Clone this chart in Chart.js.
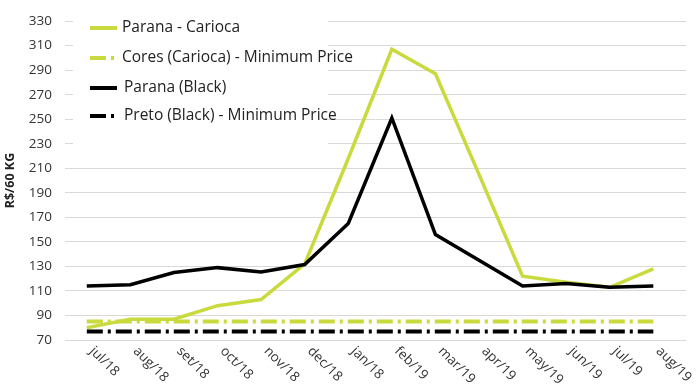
<!DOCTYPE html>
<html>
<head>
<meta charset="utf-8">
<script src="https://cdn.jsdelivr.net/npm/chart.js@4"></script>
<style>
  html, body { margin: 0; padding: 0; background: #fff; }
  #wrap { width: 696px; height: 384px; }
</style>
</head>
<body>
<div id="wrap"><canvas id="priceChart" width="696" height="384"></canvas></div>
<script>
/* --- DATA --- */
const months = ['jul/18', 'aug/18', 'set/18', 'oct/18', 'nov/18', 'dec/18', 'jan/18',
                'feb/19', 'mar/19', 'apr/19', 'may/19', 'jun/19', 'jul/19', 'aug/19'];

const paranaCarioca = [80, 87, 87, 98, 103, 132, 218, 307, 287, 205, 122, 117, 113, 128];
const coresMinPrice = [85, 85, 85, 85, 85, 85, 85, 85, 85, 85, 85, 85, 85, 85];
const paranaBlack   = [114, 115, 125, 129, 125.5, 131.5, 165, 251, 156, 135, 114, 116, 113, 114];
const pretoMinPrice = [77, 77, 77, 77, 77, 77, 77, 77, 77, 77, 77, 77, 77, 77];

const yMin = 70;
const yMax = 330;
const yStep = 20;

const GREEN = '#c9da3e';
const BLACK = '#000000';
const FONT = 'Open Sans';
const DASH_DOT = [16, 5, 3, 5];

// {x, y} points so the x axis can be a linear scale with uneven side padding
const toPoints = arr => arr.map((v, i) => ({ x: i, y: v }));

const legendItems = [
    { text: 'Parana - Carioca', color: GREEN, dash: [] },
    { text: 'Cores (Carioca) - Minimum Price', color: GREEN, dash: DASH_DOT },
    { text: 'Parana (Black)', color: BLACK, dash: [] },
    { text: 'Preto (Black) - Minimum Price', color: BLACK, dash: DASH_DOT }
];

/* --- PLUGINS --- */

// month labels, rotated +45deg (downwards to the right)
const monthLabels = {
    id: 'monthLabels',
    afterDraw(chart) {
        const { ctx, chartArea, scales: { x } } = chart;
        ctx.save();
        ctx.font = '13.5px "' + FONT + '"';
        ctx.fillStyle = '#333';
        ctx.textAlign = 'left';
        ctx.textBaseline = 'middle';
        months.forEach((m, i) => {
            const px = x.getPixelForValue(i);
            ctx.save();
            ctx.translate(px + 5, chartArea.bottom + 9);
            ctx.rotate(Math.PI / 4);
            ctx.fillText(m, 0, 0);
            ctx.restore();
        });
        ctx.restore();
    }
};

// legend sitting inside the plot with a white box
const boxLegend = {
    id: 'boxLegend',
    afterDatasetsDraw(chart) {
        const ctx = chart.ctx;
        ctx.save();
        ctx.fillStyle = '#fff';
        ctx.fillRect(73, 0, 255, 150);
        const rows = [28, 58, 88, 116];
        legendItems.forEach((it, i) => {
            const y = rows[i];
            ctx.beginPath();
            ctx.strokeStyle = it.color;
            ctx.lineWidth = 4;
            ctx.lineCap = 'butt';
            ctx.setLineDash(it.dash);
            ctx.moveTo(90, y);
            ctx.lineTo(117, y);
            ctx.stroke();
            ctx.setLineDash([]);
            ctx.fillStyle = '#222';
            ctx.font = '15.5px "' + FONT + '"';
            ctx.textAlign = 'left';
            ctx.textBaseline = 'middle';
            ctx.fillText(it.text, i < 2 ? 122 : 124, y);
        });
        ctx.restore();
    }
};

/* --- CHART --- */
const ctx = document.getElementById('priceChart').getContext('2d');

new Chart(ctx, {
    type: 'line',
    data: {
        datasets: [
            {
                label: legendItems[0].text,
                data: toPoints(paranaCarioca),
                borderColor: GREEN,
                borderWidth: 3.5,
                order: 4
            },
            {
                label: legendItems[1].text,
                data: toPoints(coresMinPrice),
                borderColor: GREEN,
                borderWidth: 4,
                borderDash: DASH_DOT,
                order: 3
            },
            {
                label: legendItems[2].text,
                data: toPoints(paranaBlack),
                borderColor: BLACK,
                borderWidth: 3.5,
                order: 2
            },
            {
                label: legendItems[3].text,
                data: toPoints(pretoMinPrice),
                borderColor: BLACK,
                borderWidth: 4,
                borderDash: DASH_DOT,
                order: 1
            }
        ]
    },
    options: {
        responsive: false,
        animation: false,
        layout: { padding: { top: 10, right: 10, bottom: 44, left: 3 } },
        elements: {
            point: { radius: 0, hoverRadius: 0 },
            line: { tension: 0, fill: false, borderCapStyle: 'butt', borderJoinStyle: 'miter' }
        },
        plugins: {
            legend: { display: false },
            tooltip: { enabled: false }
        },
        scales: {
            x: {
                type: 'linear',
                display: false,
                min: -0.5,
                max: 13.75
            },
            y: {
                min: yMin,
                max: yMax,
                afterFit(scale) { scale.width = 62; },
                border: { display: false },
                grid: { color: '#d9d9d9', lineWidth: 1, drawTicks: false },
                ticks: {
                    stepSize: yStep,
                    padding: 13,
                    color: '#333',
                    font: { family: FONT, size: 13.5 }
                },
                title: {
                    display: true,
                    text: 'R$/60 KG',
                    color: '#222',
                    padding: { top: 0, bottom: 0 },
                    font: { family: FONT, size: 12.5, weight: 'bold' }
                }
            }
        }
    },
    plugins: [boxLegend, monthLabels]
});
</script>
</body>
</html>
